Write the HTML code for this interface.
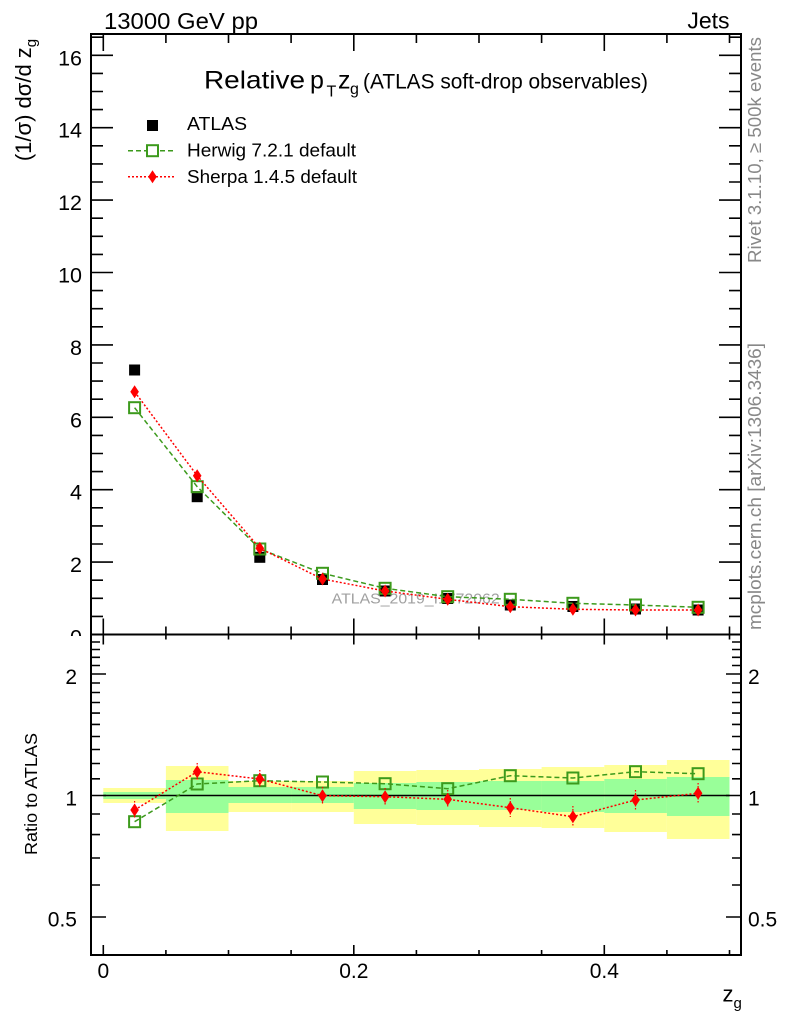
<!DOCTYPE html>
<html><head><meta charset="utf-8"><style>
html,body{margin:0;padding:0;background:#fff;}
svg{display:block;font-family:"Liberation Sans",Arial,sans-serif;}
</style></head><body>
<svg width="786" height="1024" viewBox="0 0 786 1024" xmlns="http://www.w3.org/2000/svg">
<rect width="786" height="1024" fill="#fff"/>

<!-- header texts -->
<text x="104" y="29" font-size="23" textLength="154" lengthAdjust="spacingAndGlyphs">13000 GeV pp</text>
<text x="729.5" y="28.5" font-size="23" text-anchor="end">Jets</text>

<!-- title -->
<text x="204" y="88.3" font-size="25" textLength="101" lengthAdjust="spacingAndGlyphs">Relative</text>
<text x="310" y="88.3" font-size="25">p</text>
<text x="326.5" y="96.7" font-size="16">T</text>
<text x="338" y="88.3" font-size="25">z</text>
<text x="350" y="94" font-size="16">g</text>
<text x="363" y="88.3" font-size="20.8" textLength="285" lengthAdjust="spacingAndGlyphs">(ATLAS soft-drop observables)</text>

<!-- legend -->
<rect x="147" y="120" width="11" height="11" fill="#000"/>
<text x="187" y="130" font-size="18.5" textLength="60" lengthAdjust="spacingAndGlyphs">ATLAS</text>
<line x1="128" y1="150.7" x2="176" y2="150.7" stroke="#3c9a1c" stroke-width="1.5" stroke-dasharray="5,3"/>
<rect x="147" y="145.2" width="11" height="11" fill="#fff" stroke="#3c9a1c" stroke-width="2"/>
<text x="187" y="156.7" font-size="18.5" textLength="169" lengthAdjust="spacingAndGlyphs">Herwig 7.2.1 default</text>
<line x1="128" y1="176.7" x2="176" y2="176.7" stroke="#ff0000" stroke-width="1.5" stroke-dasharray="2,2"/>
<polygon points="152.5,170.2 156.8,176.7 152.5,183.2 148.2,176.7" fill="#ff0000"/>
<text x="187" y="183" font-size="18.5" textLength="170" lengthAdjust="spacingAndGlyphs">Sherpa 1.4.5 default</text>

<!-- y label main -->
<text transform="translate(31,100) rotate(-90)" font-size="22" text-anchor="middle">(1/σ) dσ/d z<tspan font-size="15" dy="5">g</tspan></text>

<!-- right side texts -->
<text transform="translate(761,37) rotate(-90)" font-size="18.5" text-anchor="end" fill="#888" textLength="226" lengthAdjust="spacingAndGlyphs">Rivet 3.1.10, ≥ 500k events</text>
<text transform="translate(761,630) rotate(-90)" font-size="18.8" fill="#888" textLength="287" lengthAdjust="spacingAndGlyphs">mcplots.cern.ch [arXiv:1306.3436]</text>

<!-- main y tick labels -->
<g font-size="21.5" text-anchor="end">
<text x="82" y="644.5">0</text>
<text x="82" y="572.1">2</text>
<text x="82" y="499.7">4</text>
<text x="82" y="427.3">6</text>
<text x="82" y="354.9">8</text>
<text x="82" y="282.5">10</text>
<text x="82" y="210.1">12</text>
<text x="82" y="137.7">14</text>
<text x="82" y="65.3">16</text>
</g>
<!-- clip lower part of 0 -->
<rect x="0" y="636" width="90" height="20" fill="#fff"/>

<!-- watermark -->
<text x="331.7" y="603.3" font-size="15" fill="#a0a0a0" textLength="168" lengthAdjust="spacingAndGlyphs">ATLAS_2019_I1772062</text>

<!-- main series -->
<g>
<!-- ATLAS -->
<g fill="#000">
<rect x="129.1" y="364.5" width="11" height="11"/>
<rect x="191.7" y="491.2" width="11" height="11"/>
<rect x="254.3" y="551.8" width="11" height="11"/>
<rect x="317" y="574" width="11" height="11"/>
<rect x="379.6" y="585.5" width="11" height="11"/>
<rect x="442.2" y="593" width="11" height="11"/>
<rect x="504.8" y="599.5" width="11" height="11"/>
<rect x="567.4" y="601" width="11" height="11"/>
<rect x="630" y="603.5" width="11" height="11"/>
<rect x="692.6" y="604.5" width="11" height="11"/>
</g>
<!-- Herwig -->
<polyline fill="none" stroke="#3c9a1c" stroke-width="1.5" stroke-dasharray="5,3" points="134.6,407.7 197.2,486.7 259.8,549 322.5,573.3 385.1,588.3 447.7,596.7 510.3,599.3 572.9,603.3 635.5,605 698.1,607.3"/>
<g fill="none" stroke="#3c9a1c" stroke-width="2">
<rect x="129.1" y="402.2" width="11" height="11"/>
<rect x="191.7" y="481.2" width="11" height="11"/>
<rect x="254.3" y="543.5" width="11" height="11"/>
<rect x="317" y="567.8" width="11" height="11"/>
<rect x="379.6" y="582.8" width="11" height="11"/>
<rect x="442.2" y="591.2" width="11" height="11"/>
<rect x="504.8" y="593.8" width="11" height="11"/>
<rect x="567.4" y="597.8" width="11" height="11"/>
<rect x="630" y="599.5" width="11" height="11"/>
<rect x="692.6" y="601.8" width="11" height="11"/>
</g>
<!-- Sherpa -->
<polyline fill="none" stroke="#ff0000" stroke-width="1.5" stroke-dasharray="2,2" points="134.6,391.7 197.2,475.7 259.8,548.3 322.5,579 385.1,591 447.7,599.3 510.3,606.7 572.9,609.3 635.5,610 698.1,610"/>
<g fill="#ff0000">
<polygon points="134.6,385.2 138.9,391.7 134.6,398.2 130.3,391.7"/>
<polygon points="197.2,469.2 201.5,475.7 197.2,482.2 192.9,475.7"/>
<polygon points="259.8,541.8 264.1,548.3 259.8,554.8 255.5,548.3"/>
<polygon points="322.5,572.5 326.8,579 322.5,585.5 318.2,579"/>
<polygon points="385.1,584.5 389.4,591 385.1,597.5 380.8,591"/>
<polygon points="447.7,592.8 452,599.3 447.7,605.8 443.4,599.3"/>
<polygon points="510.3,600.2 514.6,606.7 510.3,613.2 506,606.7"/>
<polygon points="572.9,602.8 577.2,609.3 572.9,615.8 568.6,609.3"/>
<polygon points="635.5,603.5 639.8,610 635.5,616.5 631.2,610"/>
<polygon points="698.1,603.5 702.4,610 698.1,616.5 693.8,610"/>
</g>
</g>

<!-- ratio panel background -->
<rect x="91" y="635.5" width="650" height="319.5" fill="#fff"/>

<!-- bands -->
<g fill="#ffff99">
<rect x="103.3" y="788" width="62.6" height="15"/>
<rect x="165.9" y="766" width="62.6" height="65"/>
<rect x="228.5" y="781" width="62.6" height="31"/>
<rect x="291.1" y="781" width="62.7" height="31"/>
<rect x="353.8" y="771" width="62.6" height="53"/>
<rect x="416.4" y="770" width="62.6" height="55"/>
<rect x="479" y="769" width="62.6" height="58"/>
<rect x="541.6" y="767" width="62.7" height="61"/>
<rect x="604.3" y="765" width="62.6" height="67"/>
<rect x="666.9" y="760" width="62.6" height="79"/>
</g>
<g fill="#99ff99">
<rect x="103.3" y="792" width="62.6" height="7"/>
<rect x="165.9" y="780" width="62.6" height="33"/>
<rect x="228.5" y="787" width="62.6" height="16"/>
<rect x="291.1" y="787" width="62.7" height="16"/>
<rect x="353.8" y="783" width="62.6" height="26"/>
<rect x="416.4" y="782" width="62.6" height="28"/>
<rect x="479" y="781" width="62.6" height="29"/>
<rect x="541.6" y="781" width="62.7" height="31"/>
<rect x="604.3" y="779" width="62.6" height="34"/>
<rect x="666.9" y="777" width="62.6" height="39"/>
</g>
<line x1="103.3" y1="795.5" x2="729.5" y2="795.5" stroke="#000" stroke-width="1.5"/>

<!-- ratio herwig -->
<polyline fill="none" stroke="#3c9a1c" stroke-width="1.5" stroke-dasharray="5,3" points="134.6,821.7 197.2,784 259.8,780.7 322.5,782 385.1,783.7 447.7,788.7 510.3,775.7 572.9,778 635.5,771.7 698.1,773.7"/>
<g fill="none" stroke="#3c9a1c" stroke-width="2">
<rect x="129.1" y="816.2" width="11" height="11"/>
<rect x="191.7" y="778.5" width="11" height="11"/>
<rect x="254.3" y="775.2" width="11" height="11"/>
<rect x="317" y="776.5" width="11" height="11"/>
<rect x="379.6" y="778.2" width="11" height="11"/>
<rect x="442.2" y="783.2" width="11" height="11"/>
<rect x="504.8" y="770.2" width="11" height="11"/>
<rect x="567.4" y="772.5" width="11" height="11"/>
<rect x="630" y="766.2" width="11" height="11"/>
<rect x="692.6" y="768.2" width="11" height="11"/>
</g>
<!-- ratio sherpa -->
<polyline fill="none" stroke="#ff0000" stroke-width="1.5" stroke-dasharray="2,2" points="134.6,810 197.2,771.7 259.8,779 322.5,795.7 385.1,796.7 447.7,799.3 510.3,807.7 572.9,816.7 635.5,800 698.1,793.3"/>
<g stroke="#ff0000" stroke-width="1.2" stroke-dasharray="1.5,1.5">
<path d="M134.6 801v18M197.2 763v18M259.8 770v18M322.5 787v18M385.1 788v18M447.7 790v18M510.3 798v19M572.9 806v21M635.5 790v20M698.1 783v20"/>
</g>
<g fill="#ff0000">
<polygon points="134.6,803.5 138.9,810 134.6,816.5 130.3,810"/>
<polygon points="197.2,765.2 201.5,771.7 197.2,778.2 192.9,771.7"/>
<polygon points="259.8,772.5 264.1,779 259.8,785.5 255.5,779"/>
<polygon points="322.5,789.2 326.8,795.7 322.5,802.2 318.2,795.7"/>
<polygon points="385.1,790.2 389.4,796.7 385.1,803.2 380.8,796.7"/>
<polygon points="447.7,792.8 452,799.3 447.7,805.8 443.4,799.3"/>
<polygon points="510.3,801.2 514.6,807.7 510.3,814.2 506,807.7"/>
<polygon points="572.9,810.2 577.2,816.7 572.9,823.2 568.6,816.7"/>
<polygon points="635.5,793.5 639.8,800 635.5,806.5 631.2,800"/>
<polygon points="698.1,786.8 702.4,793.3 698.1,799.8 693.8,793.3"/>
</g>

<!-- frames -->
<rect x="91" y="34" width="650" height="600.5" fill="none" stroke="#000" stroke-width="2"/>
<rect x="91" y="634.5" width="650" height="320.5" fill="none" stroke="#000" stroke-width="2"/>

<!-- ticks -->
<g stroke="#000" stroke-width="1.6" fill="none">
<!-- main y major -->
<path d="M91 562.1h22M91 489.7h22M91 417.3h22M91 344.9h22M91 272.5h22M91 200.1h22M91 127.7h22M91 55.3h22"/>
<path d="M741 562.1h-22M741 489.7h-22M741 417.3h-22M741 344.9h-22M741 272.5h-22M741 200.1h-22M741 127.7h-22M741 55.3h-22"/>
<!-- main y minor -->
<path d="M91 616.4h12M91 598.3h12M91 580.2h12M91 544h12M91 525.9h12M91 507.8h12M91 471.6h12M91 453.5h12M91 435.4h12M91 399.2h12M91 381.1h12M91 363h12M91 326.8h12M91 308.7h12M91 290.6h12M91 254.4h12M91 236.3h12M91 218.2h12M91 182h12M91 163.9h12M91 145.8h12M91 109.6h12M91 91.5h12M91 73.4h12M91 37.2h12"/>
<path d="M741 616.4h-12M741 598.3h-12M741 580.2h-12M741 544h-12M741 525.9h-12M741 507.8h-12M741 471.6h-12M741 453.5h-12M741 435.4h-12M741 399.2h-12M741 381.1h-12M741 363h-12M741 326.8h-12M741 308.7h-12M741 290.6h-12M741 254.4h-12M741 236.3h-12M741 218.2h-12M741 182h-12M741 163.9h-12M741 145.8h-12M741 109.6h-12M741 91.5h-12M741 73.4h-12M741 37.2h-12"/>
<!-- main top x -->
<path d="M103.3 34v17M353.8 34v17M604.3 34v17"/>
<path d="M165.9 34v9M228.5 34v9M291.1 34v9M416.4 34v9M479 34v9M541.6 34v9M666.9 34v9M729.5 34v9"/>
<!-- main bottom x -->
<path d="M103.3 634.5v-16M353.8 634.5v-16M604.3 634.5v-16"/>
<path d="M165.9 634.5v-8M228.5 634.5v-8M291.1 634.5v-8M416.4 634.5v-8M479 634.5v-8M541.6 634.5v-8M666.9 634.5v-8M729.5 634.5v-8"/>
<!-- ratio top x -->
<path d="M103.3 634.5v10M353.8 634.5v10M604.3 634.5v10"/>
<path d="M165.9 634.5v5M228.5 634.5v5M291.1 634.5v5M416.4 634.5v5M479 634.5v5M541.6 634.5v5M666.9 634.5v5M729.5 634.5v5"/>
<!-- ratio bottom x -->
<path d="M103.3 955v-10M353.8 955v-10M604.3 955v-10"/>
<path d="M165.9 955v-5M228.5 955v-5M291.1 955v-5M416.4 955v-5M479 955v-5M541.6 955v-5M666.9 955v-5M729.5 955v-5"/>
<!-- ratio y -->
<path d="M91 917h15M91 795.5h15M91 674h15M741 917h-15M741 795.5h-15M741 674h-15"/>
<path d="M91 885h9M91 858h9M91 834.6h9M91 814h9M91 778.8h9M91 763.5h9M91 749.5h9M91 736.5h9M91 724.4h9M91 713.1h9M91 702.5h9M91 692.5h9M91 683h9M91 665.5h9M91 657.3h9M91 649.5h9M91 642h9"/>
<path d="M741 885h-9M741 858h-9M741 834.6h-9M741 814h-9M741 778.8h-9M741 763.5h-9M741 749.5h-9M741 736.5h-9M741 724.4h-9M741 713.1h-9M741 702.5h-9M741 692.5h-9M741 683h-9M741 665.5h-9M741 657.3h-9M741 649.5h-9M741 642h-9"/>
</g>

<!-- ratio labels -->
<g font-size="21">
<text x="77" y="684" text-anchor="end">2</text>
<text x="77" y="805.5" text-anchor="end">1</text>
<text x="77" y="926.5" text-anchor="end">0.5</text>
<text x="748" y="684">2</text>
<text x="748" y="805.5">1</text>
<text x="748" y="926.5">0.5</text>
<text x="103.3" y="978" text-anchor="middle">0</text>
<text x="353.8" y="978" text-anchor="middle">0.2</text>
<text x="604.3" y="978" text-anchor="middle">0.4</text>
</g>
<text x="722.5" y="1001.7" font-size="22">z</text>
<text x="733.5" y="1008" font-size="15">g</text>

<text transform="translate(37,794) rotate(-90)" font-size="17.5" text-anchor="middle" textLength="122" lengthAdjust="spacingAndGlyphs">Ratio to ATLAS</text>
</svg>
</body></html>
